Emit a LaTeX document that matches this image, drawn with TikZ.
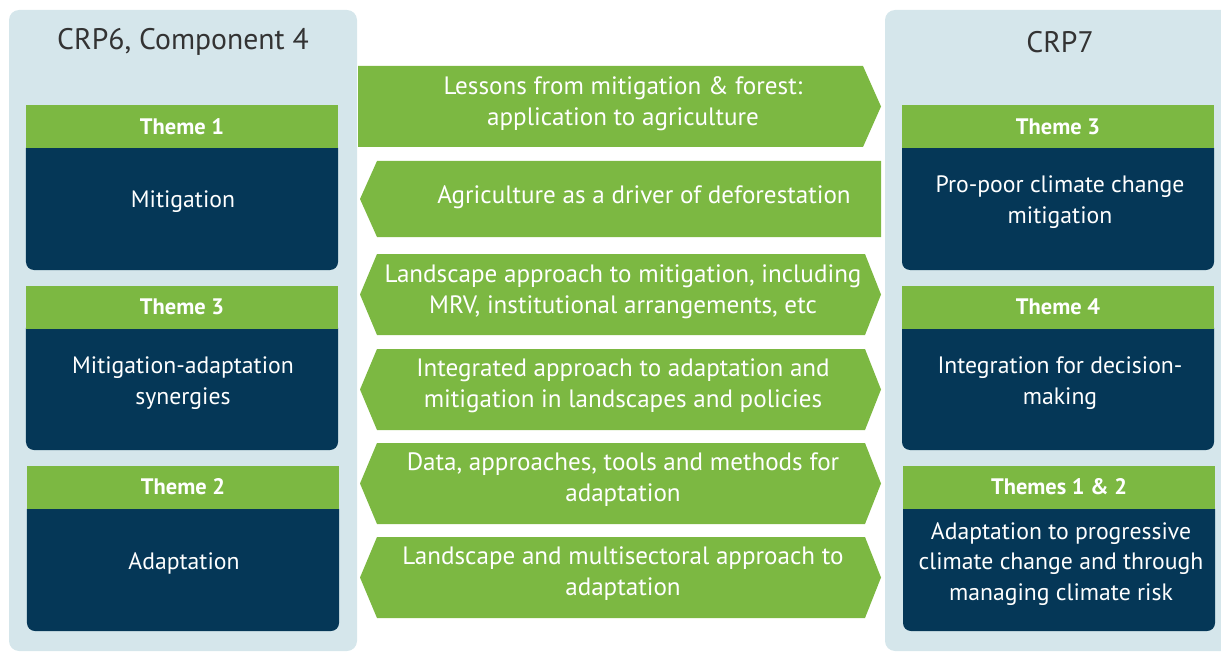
\documentclass[tikz,border=0pt]{standalone}
\usepackage{fontspec}
\setmainfont{PT Sans}
\definecolor{panelblue}{HTML}{D5E6EB}
\definecolor{leafgreen}{HTML}{7CB842}
\definecolor{navy}{HTML}{053757}
\definecolor{titlegray}{HTML}{333333}

\tikzset{
  panel/.style={fill=panelblue, rounded corners=10bp},
  cardbody/.style={fill=navy, rounded corners=8bp, draw=none,
    minimum width=312bp, minimum height=130bp, inner sep=0pt},
  cardhead/.style={fill=leafgreen, draw=none,
    minimum width=312bp, minimum height=43bp, inner sep=0pt,
    text=white, font=\fontsize{22.5}{26}\selectfont\bfseries},
  cardtext/.style={text=white, align=center, inner sep=0pt,
    font=\fontsize{23.8}{31}\selectfont},
  paneltitle/.style={text=titlegray, inner sep=0pt,
    font=\fontsize{29.8}{34}\selectfont},
  band/.style={fill=leafgreen},
  bandtext/.style={text=white, align=center, inner sep=0pt,
    font=\fontsize{25.2}{31}\selectfont},
}

\begin{document}
\begin{tikzpicture}[x=1bp,y=-1bp]
\useasboundingbox (0,0) rectangle (1221,652);

% side panels (the right one runs off the page edge)
\begin{scope}
  \clip (0,0) rectangle (1221,652);
  \fill[panel] (9,10) rectangle (357,651);
  \fill[panel] (885,10) rectangle (1245,651);
\end{scope}

\node[paneltitle] (ttlL) at (183,42) {CRP6, Component 4};
\node[paneltitle] (ttlR) at (1060,42) {CRP7};

% ---- left column cards ----
\node[cardbody] (bodyL1) at (182,205) {};
\node[cardhead] (headL1) at (182,126.5) {Theme 1};
\node[cardtext] (txtL1) at (183,202) {Mitigation};

\node[cardbody] (bodyL2) at (182,385) {};
\node[cardhead] (headL2) at (182,307) {Theme 3};
\node[cardtext] (txtL2) at (183,383) {Mitigation-adaptation\\synergies};

\node[cardbody] (bodyL3) at (183,566) {};
\node[cardhead] (headL3) at (183,487) {Theme 2};
\node[cardtext] (txtL3) at (184,563) {Adaptation};

% ---- right column cards ----
\node[cardbody] (bodyR1) at (1058,205) {};
\node[cardhead] (headR1) at (1058,126.5) {Theme 3};
\node[cardtext] (txtR1) at (1060,202) {Pro-poor climate change\\mitigation};

\node[cardbody] (bodyR2) at (1058,385) {};
\node[cardhead] (headR2) at (1058,307) {Theme 4};
\node[cardtext] (txtR2) at (1060,383) {Integration for decision-\\making};

\node[cardbody] (bodyR3) at (1059,566) {};
\node[cardhead] (headR3) at (1059,487) {Themes 1 \& 2};
\node[cardtext] (txtR3) at (1061,564) {Adaptation to progressive\\climate change and through\\managing climate risk};

% ---- linking bands between the columns ----
% right-pointing
\fill[band] (358,66) -- (863,66) -- (881,106.5) -- (863,147) -- (358,147) -- cycle;
% left-pointing
\fill[band] (377,161) -- (881,161) -- (881,237) -- (377,237) -- (360,199) -- cycle;
% two-way bands
\foreach \t/\b in {254/335, 349/430, 443/524, 537/618}{
  \fill[band] (377,\t) -- (865,\t) -- (881,{(\t+\b)/2}) -- (865,\b)
    -- (377,\b) -- (360,{(\t+\b)/2}) -- cycle;
}

\node[bandtext] (bnd1) at (623,104) {Lessons from mitigation \& forest:\\application to agriculture};
\node[bandtext] (bnd2) at (644,197) {Agriculture as a driver of deforestation};
\node[bandtext] (bnd3) at (623,292) {Landscape approach to mitigation, including\\MRV, institutional arrangements, etc};
\node[bandtext] (bnd4) at (623,386) {Integrated approach to adaptation and\\mitigation in landscapes and policies};
\node[bandtext] (bnd5) at (623,480) {Data, approaches, tools and methods for\\adaptation};
\node[bandtext] (bnd6) at (623,574) {Landscape and multisectoral approach to\\adaptation};
\end{tikzpicture}
\end{document}
